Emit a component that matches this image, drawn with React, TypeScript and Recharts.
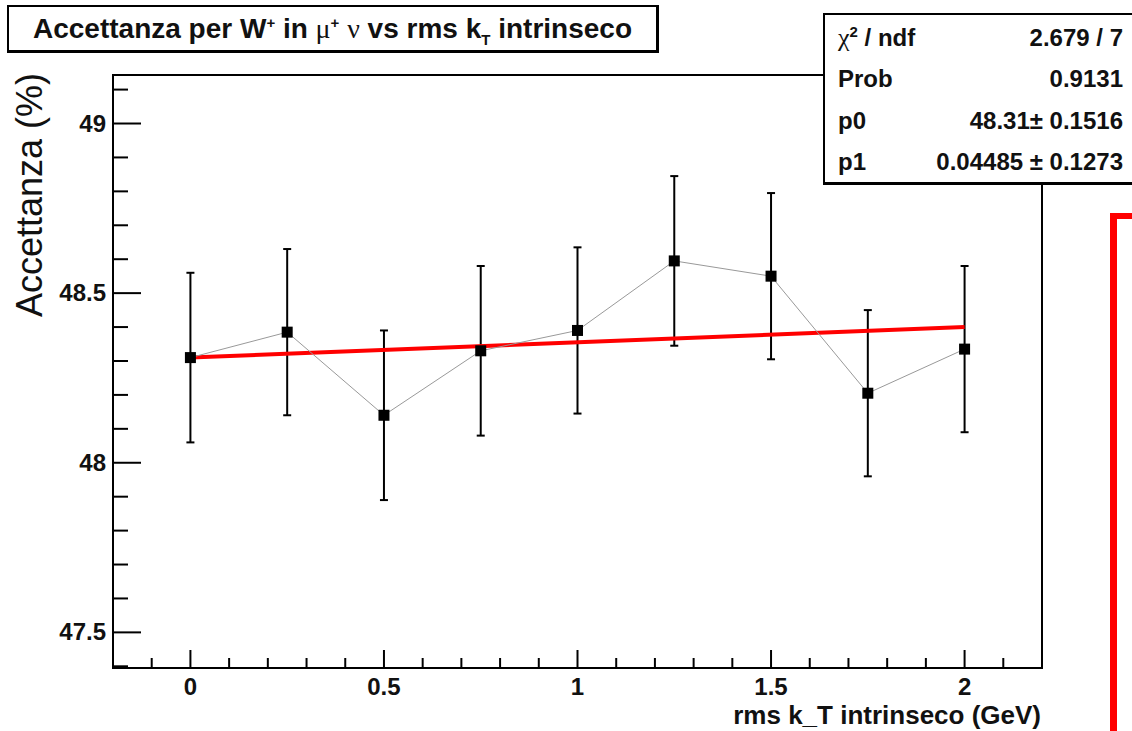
import React from 'react';
import { ComposedChart, Scatter, Line, XAxis, YAxis, ErrorBar, ReferenceArea } from 'recharts';

// acceptance vs intrinsic kT (GeV)
const kT = [0, 0.25, 0.5, 0.75, 1, 1.25, 1.5, 1.75, 2];
const acceptance = [48.31, 48.385, 48.14, 48.33, 48.39, 48.595, 48.55, 48.205, 48.335];
const acceptanceErr = [0.25, 0.245, 0.25, 0.25, 0.245, 0.25, 0.245, 0.245, 0.245];

// pol1 fit end points (p0 = 48.31, p1 = 0.04485)
const fitX = [0, 2];
const fitY = [48.31, 48.40];

const xTicks = [-0.1, 0, 0.1, 0.2, 0.3, 0.4, 0.5, 0.6, 0.7, 0.8, 0.9, 1, 1.1, 1.2, 1.3, 1.4, 1.5, 1.6, 1.7, 1.8, 1.9, 2, 2.1];
const xTickLabels = [0, 0.5, 1, 1.5, 2];
const yTicks = [47.4, 47.5, 47.6, 47.7, 47.8, 47.9, 48, 48.1, 48.2, 48.3, 48.4, 48.5, 48.6, 48.7, 48.8, 48.9, 49, 49.1];
const yTickLabels = [47.5, 48, 48.5, 49];

const statLabels = ['chi2', 'Prob', 'p0', 'p1'];
const statValues = ['2.679 / 7', '0.9131', '48.31\u00b1 0.1516', '0.04485 \u00b1 0.1273'];

const X_DOMAIN = [-0.2, 2.2];
const Y_DOMAIN = [47.395, 49.143];

const FONT = '"Liberation Sans", Arial, Helvetica, sans-serif';
const GREEK = '"Liberation Serif", "DejaVu Serif", serif';

const points = kT.map((x, i) => ({ x, y: acceptance[i], err: acceptanceErr[i] }));
const fitData = fitX.map((x, i) => ({ x, fit: fitY[i] }));

const isLabelled = (list: number[], v: number) => list.some((l) => Math.abs(l - v) < 1e-6);

const XTick = (props: any) => {
  const { x, y, payload } = props;
  const major = isLabelled(xTickLabels, payload.value);
  return (
    <g>
      <line x1={x} y1={y} x2={x} y2={y - (major ? 18 : 10)} stroke="#000" strokeWidth={2} />
      {major && (
        <text x={x} y={y + 27} textAnchor="middle" fontFamily={FONT} fontWeight="bold" fontSize={24} fill="#111">
          {payload.value}
        </text>
      )}
    </g>
  );
};

const YTick = (props: any) => {
  const { x, y, payload } = props;
  const major = isLabelled(yTickLabels, payload.value);
  return (
    <g>
      <line x1={x} y1={y} x2={x + (major ? 28 : 15)} y2={y} stroke="#000" strokeWidth={2} />
      {major && (
        <text x={x - 7} y={y + 8} textAnchor="end" fontFamily={FONT} fontWeight="bold" fontSize={24} fill="#111">
          {payload.value}
        </text>
      )}
    </g>
  );
};

const Marker = (props: any) => {
  const { cx, cy } = props;
  return <rect x={cx - 5.5} y={cy - 5.5} width={11} height={11} fill="#000" />;
};

const supStyle = { fontSize: 15, lineHeight: 0 };

const StatLabel = ({ name }: { name: string }) =>
  name === 'chi2' ? (
    <span>
      <span style={{ fontFamily: GREEK, fontWeight: 'normal', fontSize: 26 }}>{'\u03c7'}</span>
      <sup style={supStyle}>2</sup> / ndf
    </span>
  ) : (
    <span>{name}</span>
  );

export default function App() {
  return (
    <div style={{ position: 'absolute', left: 0, top: 0, width: 1132, height: 731, background: '#fff', overflow: 'hidden' }}>
      <ComposedChart width={1132} height={731} margin={{ top: 75, right: 90, bottom: 0, left: 0 }}>
        <XAxis
          type="number"
          dataKey="x"
          domain={X_DOMAIN}
          ticks={xTicks}
          interval={0}
          allowDataOverflow
          height={63}
          axisLine={false}
          tickLine={false}
          tickSize={0}
          tickMargin={0}
          tick={<XTick />}
          label={{
            value: 'rms k_T intrinseco (GeV)',
            position: 'insideBottomRight',
            content: (p: any) => (
              <text x={p.viewBox.x + p.viewBox.width - 1} y={p.viewBox.y + 56} textAnchor="end" fontFamily={FONT} fontWeight="bold" fontSize={26} fill="#111">
                rms k_T intrinseco (GeV)
              </text>
            ),
          }}
        />
        <YAxis
          type="number"
          domain={Y_DOMAIN}
          ticks={yTicks}
          interval={0}
          allowDataOverflow
          width={113}
          axisLine={false}
          tickLine={false}
          tickSize={0}
          tickMargin={0}
          tick={<YTick />}
          label={{
            value: 'Accettanza (%)',
            position: 'insideTopLeft',
            content: (p: any) => {
              const tx = 29;
              const ty = p.viewBox.y - 2;
              return (
                <text
                  x={tx}
                  y={ty}
                  transform={`rotate(-90, ${tx}, ${ty})`}
                  textAnchor="end"
                  dominantBaseline="central"
                  fontFamily={FONT}
                  fontSize={36}
                  fill="#111"
                >
                  Accettanza (%)
                </text>
              );
            },
          }}
        />
        <Scatter
          data={points}
          dataKey="y"
          line={{ stroke: '#999', strokeWidth: 1 }}
          lineType="joint"
          shape={<Marker />}
          isAnimationActive={false}
        >
          <ErrorBar dataKey="err" direction="y" width={4} stroke="#000" strokeWidth={2} isAnimationActive={false} />
        </Scatter>
        <Line
          data={fitData}
          dataKey="fit"
          type="linear"
          stroke="#ff0000"
          strokeWidth={4}
          dot={false}
          activeDot={false}
          isAnimationActive={false}
        />
        <ReferenceArea
          x1={X_DOMAIN[0]}
          x2={X_DOMAIN[1]}
          y1={Y_DOMAIN[0]}
          y2={Y_DOMAIN[1]}
          fill="none"
          stroke="#000"
          strokeWidth={2}
          ifOverflow="visible"
        />
      </ComposedChart>

      {/* title pave */}
      <div
        style={{
          position: 'absolute',
          left: 7,
          top: 5,
          width: 647,
          height: 43,
          border: '2px solid #000',
          borderRightWidth: 3,
          borderBottomWidth: 3,
          background: '#fff',
          display: 'flex',
          alignItems: 'center',
          justifyContent: 'center',
          fontFamily: FONT,
          fontWeight: 'bold',
          fontSize: 28,
          color: '#111',
          whiteSpace: 'nowrap',
        }}
      >
        <span>
          Accettanza per W<sup style={supStyle}>+</sup> in{' '}
          <span style={{ fontFamily: GREEK, fontWeight: 'normal' }}>{'\u03bc'}</span>
          <sup style={supStyle}>+</sup>{' '}
          <span style={{ fontFamily: GREEK, fontWeight: 'normal' }}>{'\u03bd'}</span> vs rms k
          <sub style={supStyle}>T</sub> intrinseco
        </span>
      </div>

      {/* fit statistics box */}
      <div
        style={{
          position: 'absolute',
          left: 823,
          top: 13,
          width: 330,
          height: 167,
          border: '2px solid #000',
          borderBottomWidth: 3,
          background: '#fff',
          fontFamily: FONT,
          fontWeight: 'bold',
          fontSize: 24,
          color: '#111',
        }}
      >
        {statLabels.map((name, i) => (
          <React.Fragment key={name}>
            <div style={{ position: 'absolute', left: 13, top: 8 + i * 41.3, height: 30, lineHeight: '30px', whiteSpace: 'nowrap' }}>
              <StatLabel name={name} />
            </div>
            <div
              style={{
                position: 'absolute',
                left: 0,
                width: 298,
                top: 8 + i * 41.3,
                height: 30,
                lineHeight: '30px',
                textAlign: 'right',
                whiteSpace: 'nowrap',
              }}
            >
              {statValues[i]}
            </div>
          </React.Fragment>
        ))}
      </div>

      {/* red marker bracket on the right */}
      <div
        style={{
          position: 'absolute',
          left: 1110,
          top: 213,
          width: 40,
          height: 600,
          borderLeft: '7px solid #ff0000',
          borderTop: '6px solid #ff0000',
        }}
      />
    </div>
  );
}
